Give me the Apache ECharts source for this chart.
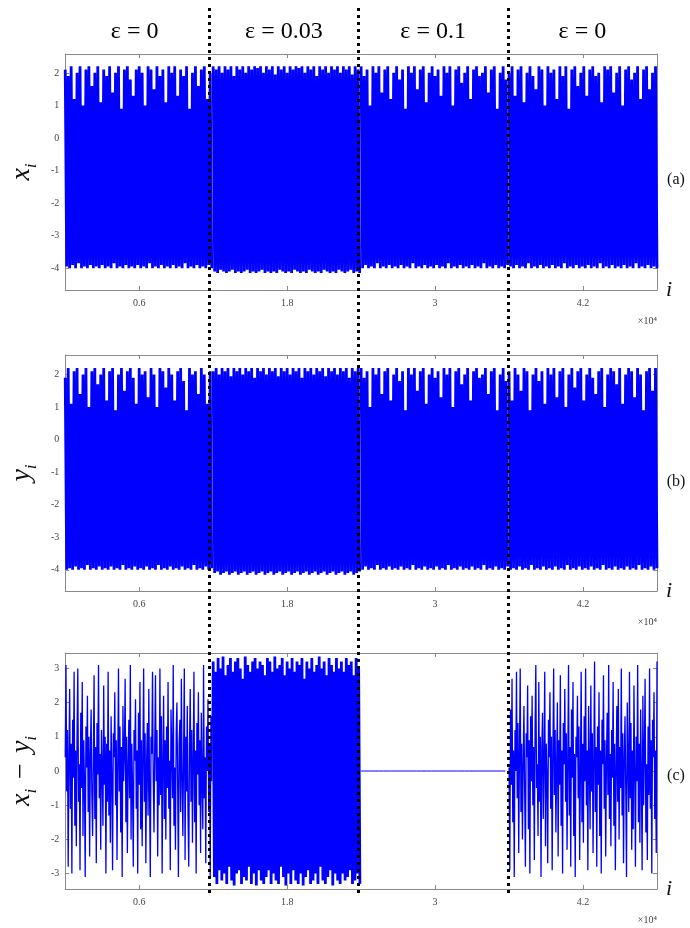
<!DOCTYPE html>
<html><head><meta charset="utf-8">
<script src="https://cdn.jsdelivr.net/npm/echarts@6/dist/echarts.min.js"></script>
<style>html,body{margin:0;padding:0;background:#fff}#c{width:690px;height:928px}</style>
</head><body><div id="c"></div>
<script>
// ---- labels / ticks ----
const segmentLabels = ['ε = 0', 'ε = 0.03', 'ε = 0.1', 'ε = 0'];
const segmentEdges = [0, 1.2, 2.4, 3.6, 4.8];   // ×10^4
const boundaries = [1.2, 2.4, 3.6];
const xTicks = [0.6, 1.8, 3, 4.2];
const abTicks = [-4, -3, -2, -1, 0, 1, 2];
const cTicks = [-3, -2, -1, 0, 1, 2, 3];
const panelTags = ['(a)', '(b)', '(c)'];

// ---- x_i, per coupling segment (successive maxima / minima) ----
const xEps0a = [
2.1,-3.95,1.9,-4.0,2.2,-3.9,1.2,-4.0,2.0,-3.85,
2.2,-4.0,1.0,-3.95,2.1,-4.0,2.2,-3.9,1.6,-4.0,
2.0,-3.95,2.2,-4.0,1.1,-3.9,2.1,-4.0,1.9,-3.95,
2.2,-4.0,1.4,-3.85,2.0,-4.0,2.2,-3.95,0.9,-4.0,
2.1,-3.9,2.2,-4.0,1.8,-3.95,1.3,-4.0,2.1,-3.9,
2.2,-4.0,2.0,-3.95,1.0,-4.0,2.2,-3.85,2.1,-4.0,
1.5,-3.95,2.2,-4.0,1.9,-3.9,2.1,-4.0,1.1,-3.95,
2.2,-4.0,2.0,-3.9,2.2,-4.0,1.3,-3.95,2.1,-4.0,
1.9,-3.85,2.2,-4.0,0.9,-3.95,2.0,-4.0,2.2,-3.9,
1.6,-4.0,2.1,-3.95,2.2,-4.0,1.2,-3.9,2.0,-4.0];
const xEps003 = [
2.2,-4.1,2.1,-4.15,2.2,-4.05,2.0,-4.1,2.2,-4.15,
2.1,-4.1,2.2,-4.05,1.9,-4.15,2.2,-4.1,2.1,-4.15,
2.2,-4.1,2.0,-4.05,2.2,-4.15,2.1,-4.1,2.2,-4.15,
2.15,-4.1,2.2,-4.05,2.0,-4.15,2.2,-4.1,2.1,-4.15,
2.2,-4.1,1.95,-4.15,2.2,-4.05,2.1,-4.1,2.2,-4.15,
2.0,-4.1,2.2,-4.15,2.1,-4.05,2.2,-4.1,2.15,-4.15,
2.2,-4.1,2.0,-4.15,2.2,-4.05,2.1,-4.1,2.2,-4.15,
1.9,-4.1,2.2,-4.15,2.1,-4.05,2.2,-4.1,2.0,-4.15,
2.2,-4.1,2.1,-4.15,2.2,-4.05,2.0,-4.1,2.2,-4.15,
2.1,-4.1,2.2,-4.05,1.95,-4.15,2.2,-4.1,2.1,-4.15];
const xEps01 = [
2.2,-4.0,1.9,-3.9,2.1,-4.0,1.0,-3.95,2.2,-4.0,
2.0,-3.85,2.2,-4.0,1.4,-3.95,2.1,-4.0,2.2,-3.9,
1.2,-4.0,2.0,-3.95,2.2,-4.0,1.8,-3.9,2.1,-4.0,
0.9,-3.95,2.2,-4.0,2.0,-3.85,2.2,-4.0,1.5,-3.95,
2.1,-4.0,2.2,-3.9,1.1,-4.0,2.0,-3.95,2.2,-4.0,
1.9,-3.9,2.1,-4.0,1.3,-3.95,2.2,-4.0,2.0,-3.85,
2.2,-4.0,1.0,-3.95,2.1,-4.0,2.2,-3.9,1.7,-4.0,
2.0,-3.95,2.2,-4.0,1.2,-3.9,2.1,-4.0,2.2,-3.95,
1.9,-4.0,2.0,-3.85,2.2,-4.0,1.4,-3.95,2.1,-4.0,
2.2,-3.9,0.9,-4.0,2.0,-3.95,2.2,-4.0,1.8,-3.9];
const xEps0b = [
2.0,-3.95,2.2,-4.0,1.3,-3.9,2.1,-4.0,2.2,-3.95,
1.1,-4.0,2.0,-3.85,2.2,-4.0,1.9,-3.95,1.5,-4.0,
2.2,-3.9,2.1,-4.0,1.0,-3.95,2.2,-4.0,2.0,-3.9,
2.1,-4.0,1.2,-3.95,2.2,-4.0,1.9,-3.85,2.2,-4.0,
0.9,-3.95,2.1,-4.0,2.2,-3.9,1.6,-4.0,2.0,-3.95,
2.2,-4.0,1.3,-3.9,2.1,-4.0,2.2,-3.95,1.9,-4.0,
2.0,-3.85,1.1,-4.0,2.2,-3.95,2.1,-4.0,2.2,-3.9,
1.4,-4.0,2.0,-3.95,2.2,-4.0,1.0,-3.9,2.1,-4.0,
2.2,-3.95,1.8,-4.0,2.0,-3.85,2.2,-4.0,1.2,-3.95,
2.1,-4.0,2.2,-3.9,1.5,-4.0,2.0,-3.95,2.2,-4.0];

// ---- y_i, per coupling segment ----
const yEps0a = [
1.9,-4.0,2.2,-3.95,1.1,-4.0,2.1,-3.9,2.2,-4.0,
1.4,-3.95,2.0,-4.0,2.2,-3.85,1.0,-4.0,2.1,-3.95,
2.2,-4.0,1.7,-3.9,2.0,-4.0,2.2,-3.95,1.2,-4.0,
2.1,-3.9,2.2,-4.0,0.9,-3.95,2.0,-4.0,2.2,-3.85,
1.5,-4.0,2.1,-3.95,2.2,-4.0,1.9,-3.9,1.1,-4.0,
2.2,-3.95,2.0,-4.0,2.1,-3.9,1.3,-4.0,2.2,-3.95,
2.0,-4.0,1.0,-3.85,2.2,-4.0,2.1,-3.95,1.6,-4.0,
2.2,-3.9,2.0,-4.0,1.2,-3.95,2.1,-4.0,2.2,-3.9,
1.8,-4.0,0.9,-3.95,2.2,-4.0,2.0,-3.85,2.1,-4.0,
1.4,-3.95,2.2,-4.0,2.0,-3.9,1.1,-4.0,2.1,-3.95];
const yEps003 = [
2.1,-4.1,2.2,-4.05,2.0,-4.15,2.2,-4.1,2.1,-4.05,
2.2,-4.15,1.95,-4.1,2.2,-4.05,2.1,-4.15,2.2,-4.1,
2.0,-4.05,2.2,-4.15,2.1,-4.1,2.2,-4.05,1.9,-4.15,
2.2,-4.1,2.1,-4.05,2.2,-4.15,2.0,-4.1,2.2,-4.05,
2.1,-4.15,2.2,-4.1,1.95,-4.05,2.2,-4.15,2.1,-4.1,
2.2,-4.05,2.0,-4.15,2.2,-4.1,2.1,-4.05,2.2,-4.15,
1.9,-4.1,2.2,-4.05,2.1,-4.15,2.2,-4.1,2.0,-4.05,
2.2,-4.15,2.1,-4.1,2.2,-4.05,1.95,-4.15,2.2,-4.1,
2.1,-4.05,2.2,-4.15,2.0,-4.1,2.2,-4.05,2.1,-4.15,
2.2,-4.1,1.9,-4.05,2.2,-4.15,2.1,-4.1,2.2,-4.05];
const yEps01 = xEps01; // synchronized at ε = 0.1: y_i equals x_i
const yEps0b = [
2.1,-4.0,1.2,-3.95,2.2,-4.0,2.0,-3.9,1.5,-4.0,
2.2,-3.95,2.1,-4.0,0.9,-3.85,2.0,-4.0,2.2,-3.95,
1.8,-4.0,2.1,-3.9,1.1,-4.0,2.2,-3.95,2.0,-4.0,
2.2,-3.9,1.3,-4.0,2.1,-3.95,2.2,-4.0,1.0,-3.85,
2.0,-4.0,2.2,-3.95,1.6,-4.0,2.1,-3.9,2.2,-4.0,
1.2,-3.95,2.0,-4.0,2.2,-3.9,1.9,-4.0,1.4,-3.95,
2.1,-4.0,2.2,-3.85,1.0,-4.0,2.0,-3.95,2.2,-4.0,
2.1,-3.9,1.7,-4.0,2.2,-3.95,1.1,-4.0,2.0,-3.9,
2.2,-4.0,2.1,-3.95,1.3,-4.0,2.2,-3.85,2.0,-4.0,
0.9,-3.95,2.1,-4.0,2.2,-3.9,1.5,-4.0,2.2,-3.95];

// ---- x_i - y_i, per coupling segment ----
const dEps0a = [
0.4,3.1,-0.6,1.2,-2.8,0.3,2.4,-1.1,0.8,-3.0,
1.5,-0.2,2.9,-1.6,0.6,-2.2,1.1,3.0,-0.9,0.2,
-2.9,1.7,-0.5,2.6,-1.9,0.9,-0.3,-3.1,1.3,0.1,
2.2,-1.2,1.0,-2.5,0.5,1.8,-0.7,-1.9,0.3,2.8,
-1.4,0.7,-2.7,1.4,-0.1,3.1,-0.8,0.5,-2.3,1.2,
0.0,-1.6,2.5,-0.4,1.0,-3.0,0.8,-0.9,2.9,-1.3,
0.6,-2.1,1.6,-0.2,-2.9,1.1,0.4,2.3,-1.0,0.9,
-2.6,0.2,3.0,-0.6,1.3,-1.8,0.7,-3.1,1.9,-0.3,
0.5,2.7,-1.5,1.0,-2.4,0.1,1.5,-0.8,3.1,-2.0,
0.8,-0.5,-2.8,1.2,0.3,2.1,-1.1,0.6,-3.0,1.7,
-0.4,2.6,-1.7,0.9,-2.2,0.4,3.0,-0.9,1.1,-2.7,
0.2,1.4,-1.3,2.4,-0.6,-3.1,1.0,0.5,2.9,-0.2,
-1.8,0.7,2.8,-0.3,1.2,-2.5,0.4,-1.0,3.0,-0.7,
1.6,-3.0,0.2,2.2,-1.4,0.9,-2.0,1.3,-0.5,2.6,
-1.1,0.3,-2.9,1.8,0.6,-0.8,3.1,-1.6,0.1,-2.3,
1.1,2.0,-0.4,-3.1,0.8,1.5,-1.2,2.7,-0.2,-1.9,
0.5,3.0,-2.6,1.0,-0.6,1.9,-1.3,-2.8,0.7,2.4,
-0.9,1.2,-2.1,0.2,2.9,-1.5,0.6,-3.0,1.4,-0.1,
2.3,-1.0,0.9,-2.4,1.7,-0.4,-1.7,3.1,-0.8,0.4,
-2.7,1.3,0.0,2.1,-1.2,0.8,-3.1,1.6,-0.3,2.8];
const dEps003 = [
3.2,-3.1,2.9,-3.3,3.3,-2.9,3.0,-3.2,3.35,-3.0,
2.8,-3.3,3.1,-2.8,3.3,-3.2,2.9,-3.35,3.2,-3.0,
3.3,-2.9,3.0,-3.3,2.7,-3.1,3.35,-3.2,3.1,-2.8,
2.9,-3.3,3.2,-3.0,3.3,-3.35,3.0,-2.9,3.2,-3.2,
3.1,-3.3,2.8,-3.1,3.3,-2.9,3.2,-3.3,2.9,-3.0,
3.35,-3.2,3.0,-3.3,3.1,-2.8,3.3,-3.1,2.8,-3.35,
3.2,-3.0,3.0,-3.3,3.3,-2.9,2.9,-3.2,3.2,-3.3,
3.1,-3.0,3.3,-3.35,2.7,-3.1,3.2,-2.9,3.0,-3.3,
3.3,-3.2,2.9,-3.0,3.1,-3.3,3.35,-2.8,3.0,-3.2,
3.2,-3.3,2.8,-3.1,3.3,-2.9,3.1,-3.35,2.9,-3.0,
3.3,-3.2,3.0,-3.3,3.2,-3.0,2.9,-3.2,3.3,-3.1,
3.1,-2.9,3.2,-3.3,2.8,-3.2,3.3,-3.0,3.0,-3.3];
const dEps01 = [
0,0,0,0,0,0,0,0,0,0,0,0,0,0,0,0,0,0,0,0,
0,0,0,0,0,0,0,0,0,0,0,0,0,0,0,0,0,0,0,0];
const dEps0b = [
0.1,-2.9,1.8,-0.4,2.7,-1.5,0.6,-3.1,1.2,0.0,
2.9,-0.8,1.4,-2.4,0.5,3.0,-1.2,0.8,-2.0,0.2,
1.9,-0.6,-2.8,1.1,0.4,2.5,-1.7,0.9,-3.0,1.6,
-0.3,2.2,-1.0,0.7,-2.6,1.3,3.1,-0.5,0.2,-1.9,
2.6,-0.9,1.0,-3.1,0.6,1.7,-1.4,0.3,2.9,-2.2,
0.8,-0.1,-2.7,1.5,0.4,2.3,-1.1,1.0,-2.9,0.5,
3.0,-0.7,1.2,-1.8,0.1,2.0,-2.5,0.9,-0.4,2.8,
-1.6,0.6,-3.0,1.4,0.2,2.4,-0.9,1.1,-2.3,0.3,
3.1,-1.3,0.7,-2.8,1.8,-0.2,2.6,-1.9,0.5,-3.1,
1.0,0.4,2.2,-0.8,1.3,-2.6,0.0,2.9,-1.5,0.8,
-2.1,1.6,-0.3,3.0,-1.0,0.6,-2.9,1.9,0.2,-1.7,
2.5,-0.6,1.1,-2.4,0.3,3.2,-1.2,0.7,-2.8,1.3,
-0.4,2.3,-1.9,0.6,-3.0,1.5,0.2,2.8,-1.1,0.9,
-2.5,0.3,1.7,-0.7,3.1,-1.4,0.5,-2.2,1.2,-0.2,
2.6,-1.6,0.8,-2.9,0.1,1.9,-0.9,2.4,-2.0,0.7,
-0.5,3.0,-1.3,1.1,-2.7,0.4,1.6,-0.6,-3.1,2.0,
0.3,-1.2,2.9,-0.8,1.4,-2.3,0.6,-1.7,2.5,0.0,
-2.8,1.0,-0.3,3.1,-1.5,0.8,-2.1,1.8,-0.1,-2.9,
2.2,-1.0,0.5,2.7,-1.8,0.2,-2.6,1.3,-0.7,3.0,
-1.1,0.9,-3.0,1.5,0.4,2.3,-1.4,0.6,-2.4,3.2];

// place a segment's samples along its own stretch of the index axis
function buildSeg(vals, k) {
  const a = segmentEdges[k], b = segmentEdges[k + 1], n = vals.length;
  const div = (k === 3) ? n - 1 : n;
  return vals.map((v, j) => [a + (b - a) * j / div, v]);
}

const SERIF = 'Liberation Serif';
const frame = '#8a8a8a';
const grids = [
  {left: 60, width: 597, top: 54, height: 236},
  {left: 60, width: 597, top: 355, height: 236},
  {left: 60, width: 597, top: 653, height: 236},
  {left: 60, width: 597, top: 6, height: 887}
];
const yRanges = [[-4.67, 2.58], [-4.65, 2.6], [-3.45, 3.45]];
const yTicksP = [abTicks, abTicks, cTicks];
const yNames = ['{v|x}{s|i}', '{v|y}{s|i}', '{v|x}{s|i}{m|−}{v|y}{s|i}'];
const nameRich = {
  v: {fontFamily: SERIF, fontStyle: 'italic', fontSize: 28, lineHeight: 36, color: '#111'},
  s: {fontFamily: SERIF, fontStyle: 'italic', fontSize: 17, lineHeight: 17, verticalAlign: 'bottom', color: '#111'},
  m: {fontFamily: SERIF, fontSize: 28, lineHeight: 36, color: '#111', padding: [0, 10, 0, 10]}
};

const xAxes = [], yAxes = [];
for (let k = 0; k < 3; k++) {
  xAxes.push({
    gridIndex: k, type: 'value', min: 0, max: 4.8, position: 'bottom',
    axisLine: {show: true, onZero: false, lineStyle: {color: frame, width: 1}},
    axisTick: {show: true, inside: true, length: 4, customValues: xTicks, lineStyle: {color: frame}},
    axisLabel: {show: true, customValues: xTicks, formatter: v => String(+(+v).toFixed(1)),
      fontFamily: SERIF, fontSize: 10, color: '#444', margin: 8},
    splitLine: {show: false},
    name: 'i', nameLocation: 'end', nameGap: 9,
    nameTextStyle: {fontFamily: SERIF, fontStyle: 'italic', fontSize: 22, color: '#111', verticalAlign: 'middle', padding: [0, 0, 6, 0]}
  });
  xAxes.push({
    gridIndex: k, type: 'value', min: 0, max: 4.8, position: 'top',
    axisLine: {show: true, onZero: false, lineStyle: {color: frame, width: 1}},
    axisTick: {show: true, inside: true, length: 4, customValues: xTicks, lineStyle: {color: frame}},
    axisLabel: {show: false}, splitLine: {show: false}
  });
  yAxes.push({
    gridIndex: k, type: 'value', min: yRanges[k][0], max: yRanges[k][1], position: 'left',
    axisLine: {show: true, onZero: false, lineStyle: {color: frame, width: 1}},
    axisTick: {show: true, inside: true, length: 4, customValues: yTicksP[k], lineStyle: {color: frame}},
    axisLabel: {show: true, customValues: yTicksP[k], fontFamily: SERIF, fontSize: 10, color: '#444', margin: 6},
    splitLine: {show: false},
    name: yNames[k], nameLocation: 'middle', nameRotate: 90, nameGap: 22,
    nameTextStyle: {rich: nameRich}
  });
  yAxes.push({
    gridIndex: k, type: 'value', min: yRanges[k][0], max: yRanges[k][1], position: 'right',
    axisLine: {show: true, onZero: false, lineStyle: {color: frame, width: 1}},
    axisTick: {show: true, inside: true, length: 4, customValues: yTicksP[k], lineStyle: {color: frame}},
    axisLabel: {show: false}, splitLine: {show: false}
  });
}
xAxes.push({gridIndex: 3, type: 'value', min: 0, max: 4.8, show: false});
yAxes.push({gridIndex: 3, type: 'value', min: 0, max: 1, show: false});

const panelSegs = [
  [xEps0a, xEps003, xEps01, xEps0b],
  [yEps0a, yEps003, yEps01, yEps0b],
  [dEps0a, dEps003, dEps01, dEps0b]
];
const segWidth = [[2.8, 2.8, 2.8, 2.8], [2.8, 2.8, 2.8, 2.8], [1.3, 2.8, 1.0, 1.3]];
const series = [];
panelSegs.forEach((segs, p) => segs.forEach((vals, k) => series.push({
  type: 'line', xAxisIndex: 2 * p, yAxisIndex: 2 * p, data: buildSeg(vals, k),
  showSymbol: false, symbol: 'none', silent: true, clip: true,
  lineStyle: {color: '#0000ff', width: segWidth[p][k], join: 'bevel'}, z: 2
})));
series.push({
  type: 'line', xAxisIndex: 6, yAxisIndex: 6, data: [], z: 10, silent: true,
  markLine: {
    silent: true, symbol: ['none', 'none'], label: {show: false},
    lineStyle: {color: '#000', width: 3, type: [3, 4], cap: 'butt'},
    data: boundaries.map(b => ({xAxis: b}))
  },
  markArea: {
    silent: true, itemStyle: {color: 'rgba(0,0,0,0)'},
    label: {show: true, position: 'insideTop', distance: 14, fontFamily: SERIF, fontSize: 24, color: '#000'},
    data: segmentLabels.map((s, k) => [{name: s, xAxis: segmentEdges[k]}, {xAxis: segmentEdges[k + 1]}])
  }
});

const graphic = [];
const tagY = [180, 482, 776];
const x10Y = [321, 622, 920];
for (let k = 0; k < 3; k++) {
  graphic.push({type: 'text', x: 676, y: tagY[k],
    style: {text: panelTags[k], font: '16px "Liberation Serif"', fill: '#111', align: 'center', verticalAlign: 'middle'}});
  graphic.push({type: 'text', x: 657, y: x10Y[k],
    style: {text: '×10⁴', font: '10px "Liberation Serif"', fill: '#444', align: 'right', verticalAlign: 'middle'}});
}

const chart = echarts.init(document.getElementById('c'), null, {renderer: 'canvas'});
chart.setOption({
  animation: false,
  backgroundColor: '#fff',
  grid: grids,
  xAxis: xAxes,
  yAxis: yAxes,
  graphic: graphic,
  series: series
});
</script>
</body></html>
